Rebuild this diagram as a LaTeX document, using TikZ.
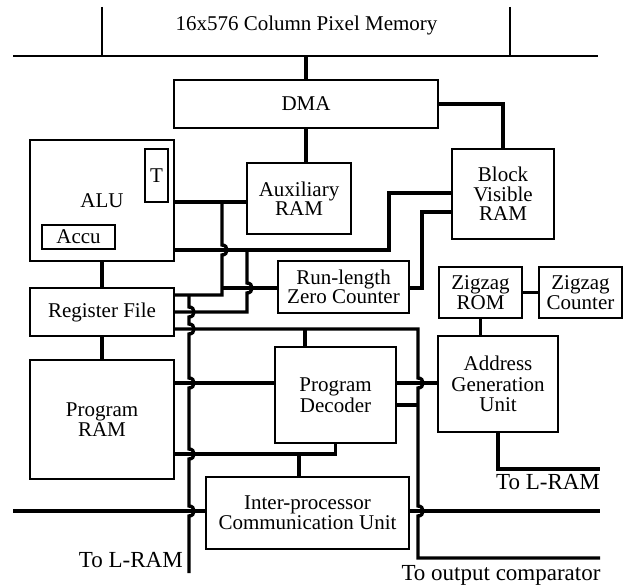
\documentclass[tikz,border=0pt]{standalone}
\usepackage{fontspec}
\setmainfont{Liberation Serif}
\usetikzlibrary{calc}
\tikzset{
  unit/.style={draw, fill=white, line width=2pt, inner sep=0pt, align=center,
               font=\fontsize{21}{19.5}\selectfont},
  wire/.style={line width=3.4pt},
  thinwire/.style={line width=2pt},
  note/.style={inner sep=0pt, font=\fontsize{23}{23}\selectfont}
}
% a vertical wire hopping over a horizontal one
\newcommand{\wirehop}[1]{-- ($(#1)+(0,-5)$) .. controls ($(#1)+(6.7,-5)$) and ($(#1)+(6.7,5)$) .. ($(#1)+(0,5)$)}

\begin{document}
\begin{tikzpicture}[x=1pt,y=-1pt]
  \useasboundingbox (0,0) rectangle (626,588);

  % column pixel memory
  \coordinate (memL) at (13,56);
  \coordinate (memR) at (598,56);
  \draw[thinwire] (memL) -- (memR);
  \foreach \x in {102,510} {
    \draw[thinwire] (\x,7) -- (\x,56);
  }
  \node[inner sep=0pt, font=\fontsize{21}{21}\selectfont] (mem) at (306.5,25) {16x576 Column Pixel Memory};

  % blocks
  \node[unit, minimum width=264, minimum height=48] (dma) at (306,104) {DMA};
  \node[unit, minimum width=104, minimum height=71] (aux) at (299,198.5) {Auxiliary\\RAM};
  \node[unit, minimum width=102, minimum height=90] (bvr) at (503,194) {Block\\Visible\\RAM};
  \node[unit, minimum width=144, minimum height=121] (alu) at (102,200.5) {ALU};
  \node[unit, minimum width=23, minimum height=53] (tbox) at (156.5,175.5) {T};
  \node[unit, minimum width=73, minimum height=24] (accu) at (78.5,237) {Accu};
  \node[unit, minimum width=131, minimum height=52] (rlz) at (343.5,287) {Run-length\\Zero Counter};
  \node[unit, minimum width=144, minimum height=48] (rf) at (102,312) {Register File};
  \node[unit, minimum width=83, minimum height=51, font=\fontsize{21}{17}\selectfont] (zrom) at (480.5,292.5) {Zigzag\\ROM};
  \node[unit, minimum width=83, minimum height=51, font=\fontsize{21}{17.5}\selectfont] (zcnt) at (580.5,292.5) {Zigzag\\Counter};
  \node[unit, minimum width=120, minimum height=96, font=\fontsize{21}{20.5}\selectfont] (agu) at (498,384) {Address\\Generation\\Unit};
  \node[unit, minimum width=121, minimum height=96, font=\fontsize{21}{20.5}\selectfont] (pdec) at (335.5,395) {Program\\Decoder};
  \node[unit, minimum width=144, minimum height=119] (pram) at (102,419.5) {Program\\RAM};
  \node[unit, minimum width=203, minimum height=72, font=\fontsize{21}{20}\selectfont] (ipcu) at (307.5,513) {Inter-processor\\Communication Unit};

  % rows and columns of the wiring
  \coordinate (rowA) at (0,202);
  \coordinate (rowK) at (0,193);
  \coordinate (rowL) at (0,212);
  \coordinate (rowB) at (0,250);
  \coordinate (rowC) at (0,288);
  \coordinate (rowD) at (0,295);
  \coordinate (rowE) at (0,312);
  \coordinate (rowF) at (0,329);
  \coordinate (rowG) at (0,383);
  \coordinate (rowN) at (0,405);
  \coordinate (rowH) at (0,454);
  \coordinate (rowO) at (0,469);
  \coordinate (rowI) at (0,511);
  \coordinate (rowM) at (0,558);
  \coordinate (rowZ) at (0,573);
  \coordinate (lim) at (13,0);
  \coordinate (bus) at (189,0);
  \coordinate (colA) at (222,0);
  \coordinate (colB) at (247,0);
  \coordinate (colH) at (299,0);
  \coordinate (colF) at (305,0);
  \coordinate (colC) at (389,0);
  \coordinate (colE) at (418,0);
  \coordinate (colD) at (422,0);
  \coordinate (rim) at (600,0);

  % memory and DMA
  \draw[wire] (dma.north |- memL) -- (dma.north);
  \draw[wire] (dma.south) -- (dma.south |- aux.north);
  \draw[wire] (dma.east) -| (bvr.north);

  % ALU side
  \draw[wire] (alu.east |- rowA) -- (aux.west |- rowA);
  \draw[wire] (colA |- rowA) \wirehop{colA |- rowB} -- (colA |- rowD) -- (rf.east |- rowD);
  \draw[wire] (colA |- rowC) -- (rlz.west |- rowC);
  \draw[wire] (alu.east |- rowB) -- (colC |- rowB) -- (colC |- rowK) -- (bvr.west |- rowK);
  \draw[wire] (colB |- rowB) \wirehop{colB |- rowC} -- (colB |- rowE) -- (rf.east |- rowE);
  \draw[wire] (rlz.east |- rowC) -- (colD |- rowC) -- (colD |- rowL) -- (bvr.west |- rowL);
  \draw[wire] (alu.south) -- (rf.north);
  \draw[wire] (rf.south) -- (pram.north);

  % bus to L-RAM
  \draw[wire] (bus |- rowD) \wirehop{bus |- rowE} \wirehop{bus |- rowF} \wirehop{bus |- rowG}
              \wirehop{bus |- rowH} \wirehop{bus |- rowI} -- (bus |- rowZ);

  % decoder, output comparator
  \draw[wire] (rf.east |- rowF) -- (colE |- rowF) \wirehop{colE |- rowG} \wirehop{colE |- rowI}
              -- (colE |- rowM) -- (rim |- rowM);
  \draw[wire] (colF |- rowF) -- (colF |- pdec.north);
  \draw[wire] (pdec.east |- rowN) -- (colE |- rowN);
  \draw[wire] (pram.east |- rowG) -- (pdec.west |- rowG);
  \draw[wire] (pdec.east |- rowG) -- (agu.west |- rowG);
  \draw[wire] (pram.east |- rowH) -- (pdec.south |- rowH) -- (pdec.south);
  \draw[wire] (colH |- rowH) -- (colH |- ipcu.north);
  \draw[wire] (lim |- rowI) -- (ipcu.west |- rowI);
  \draw[wire] (ipcu.east |- rowI) -- (rim |- rowI);

  % zigzag and address generation
  \draw[wire] (zrom.east) -- (zcnt.west);
  \draw[wire] (zrom.south) -- (zrom.south |- agu.north);
  \draw[wire] (agu.south) -- (agu.south |- rowO) -- (rim |- rowO);

  % port labels
  \node[note, anchor=east] (lramA) at (183,560) {To L-RAM};
  \node[note] (lramB) at (548,482) {To L-RAM};
  \node[note] (outcmp) at (501,575) {To output comparator};
\end{tikzpicture}
\end{document}
